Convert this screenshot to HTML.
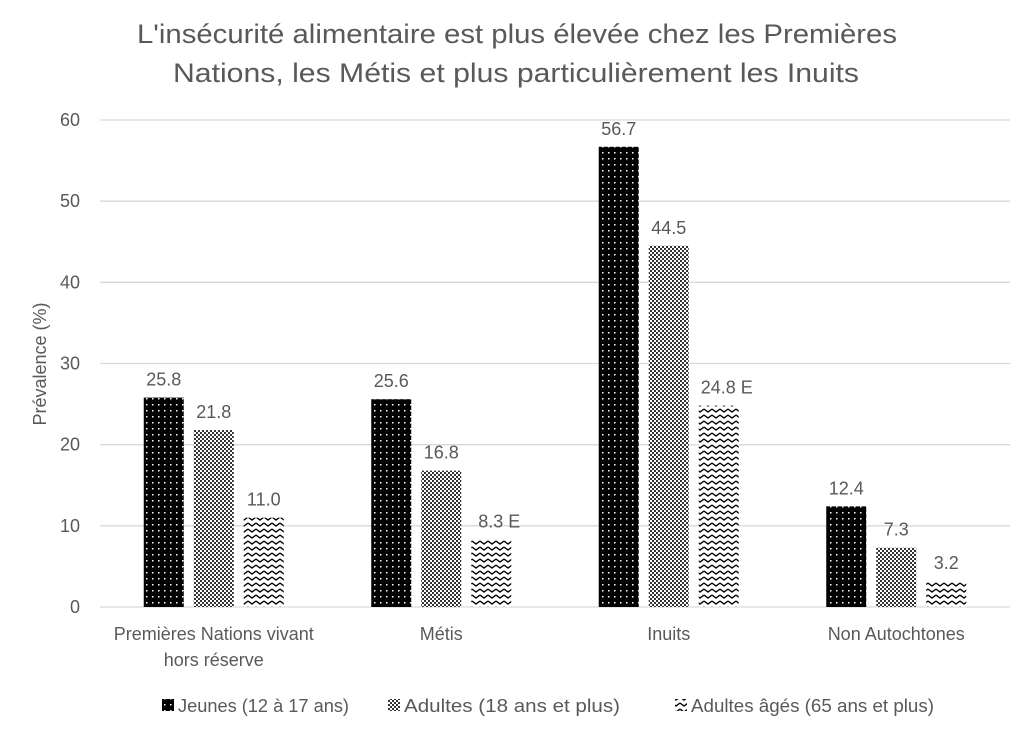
<!DOCTYPE html>
<html><head><meta charset="utf-8"><style>
body{margin:0;background:#fff;font-family:"Liberation Sans",sans-serif}
text{fill:#595959}
</style></head><body>
<svg id="chart" width="1032" height="732" xmlns="http://www.w3.org/2000/svg">
<defs>
<pattern id="pDots" width="6" height="6" patternUnits="userSpaceOnUse"><rect width="6" height="6" fill="#000"/><rect x="2" y="2" width="1.5" height="1.5" fill="#fff"/></pattern>
<pattern id="pCheck" width="4" height="4" patternUnits="userSpaceOnUse"><rect width="4" height="4" fill="#fff"/><rect width="2" height="2" fill="#333"/><rect x="2" y="2" width="2" height="2" fill="#333"/></pattern>
<pattern id="pZig" width="8" height="6" patternUnits="userSpaceOnUse"><rect width="8" height="6" fill="#fff"/><path d="M0,1 L4,4 L8,1" stroke="#000" stroke-width="1.4" fill="none"/></pattern>
</defs>
<text x="517" y="43" text-anchor="middle" font-size="27" textLength="760" lengthAdjust="spacingAndGlyphs">L'insécurité alimentaire est plus élevée chez les Premières</text>
<text x="516" y="82" text-anchor="middle" font-size="27" textLength="686" lengthAdjust="spacingAndGlyphs">Nations, les Métis et plus particulièrement les Inuits</text>
<text transform="translate(46,364) rotate(-90)" text-anchor="middle" font-size="18">Prévalence (%)</text>
<g id="grid"></g><g id="bars"></g><g id="labels"></g>
<g font-size="18">
<rect x="162" y="699" width="12" height="12" fill="url(#pDots)"/>
<text x="178" y="712" textLength="171" lengthAdjust="spacingAndGlyphs">Jeunes (12 à 17 ans)</text>
<rect x="388" y="699" width="12" height="12" fill="url(#pCheck)"/>
<text x="404" y="712" textLength="216" lengthAdjust="spacingAndGlyphs">Adultes (18 ans et plus)</text>
<rect x="675" y="699" width="12" height="12" fill="url(#pZig)"/>
<text x="691" y="712" textLength="243" lengthAdjust="spacingAndGlyphs">Adultes âgés (65 ans et plus)</text>
</g>
</svg>
<script>
const categories=[["Premières Nations vivant","hors réserve"],["Métis"],["Inuits"],["Non Autochtones"]];
const jeunes=[25.8,25.6,56.7,12.4];
const adultes=[21.8,16.8,44.5,7.3];
const ages=[11.0,8.3,24.8,3.2];
const agesFlags=["","E","E",""];
const yTicks=[0,10,20,30,40,50,60];
const NS="http://www.w3.org/2000/svg";
const x0=100,x1=1010,yb=607,yt=120,ymax=60;
const y=v=>yb-(v/ymax)*(yb-yt);
const band=(x1-x0)/categories.length;
const cx=i=>x0+band*(i+0.5);
function mk(tag,attrs,parent){const e=document.createElementNS(NS,tag);for(const k in attrs)e.setAttribute(k,attrs[k]);parent.appendChild(e);return e;}
const grid=document.getElementById('grid'),bars=document.getElementById('bars'),labels=document.getElementById('labels');
yTicks.forEach(t=>{
 const l=mk('line',{x1:x0,x2:x1,y1:y(t),y2:y(t),stroke:'#d9d9d9','stroke-width':1.3},grid);
 
 
 const tx=mk('text',{x:80,y:y(t)+6,'text-anchor':'end','font-size':18},grid);tx.textContent=t;
 
 
});
const series=[{d:jeunes,f:'url(#pDots)',n:'jeunes',o:-50},{d:adultes,f:'url(#pCheck)',n:'adultes',o:0},{d:ages,f:'url(#pZig)',n:'ages',o:50}];
const bw=40;
series.forEach((s,si)=>{
 s.d.forEach((v,i)=>{
  const bx=cx(i)+s.o-bw/2;
  const r=mk('rect',{x:bx,y:y(v),width:bw,height:yb-y(v),fill:s.f},bars);
  
  
  const t=mk('text',{x:cx(i)+s.o,y:y(v)-12,'text-anchor':'middle','font-size':18},labels);
  const flag=si===2?agesFlags[i]:"";
  t.textContent=v.toFixed(1)+(flag?" "+flag:"");
  if(flag)t.setAttribute('x',cx(i)+s.o+8);
  
  
 });
});
categories.forEach((c,i)=>{
 c.forEach((line,j)=>{
  const t=mk('text',{x:cx(i),y:640+j*26,'text-anchor':'middle','font-size':18},labels);
  t.textContent=line;
  
  
 });
});
</script>
</body></html>
